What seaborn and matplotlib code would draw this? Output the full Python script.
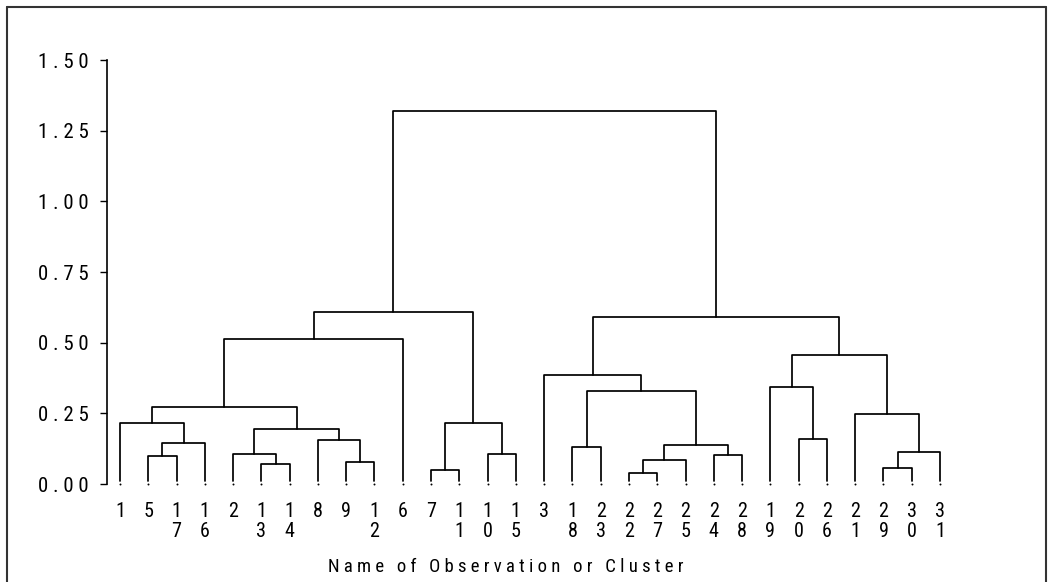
import matplotlib
matplotlib.use("Agg")
import matplotlib.pyplot as plt
import seaborn as sns
import pandas as pd
from matplotlib.lines import Line2D

# ---------------- data ----------------
leaf_labels = ["1", "5", "17", "16", "2", "13", "14", "8", "9", "12", "6",
               "7", "11", "10", "15", "3", "18", "23", "22", "27", "25",
               "24", "28", "19", "20", "26", "21", "29", "30", "31"]

# merges (cluster Ck is created by the k-th merge)
merge_left = ["5", "C1", "1", "13", "2", "9", "8", "C5", "C3", "C9",
              "7", "10", "C11", "C10",
              "22", "C15", "24", "C16", "18", "C19", "3",
              "20", "19", "29", "C24", "21", "C23", "C21", "C14"]
merge_right = ["17", "16", "C2", "14", "C4", "12", "C6", "C7", "C8", "6",
               "11", "15", "C12", "C13",
               "27", "25", "28", "C17", "23", "C18", "C20",
               "26", "C22", "30", "31", "C25", "C26", "C27", "C28"]
merge_height = [0.099, 0.144, 0.215, 0.071, 0.105, 0.077, 0.157, 0.196, 0.271, 0.513,
                0.048, 0.105, 0.215, 0.608,
                0.038, 0.085, 0.104, 0.138, 0.132, 0.330, 0.384,
                0.160, 0.343, 0.057, 0.114, 0.249, 0.457, 0.591, 1.318]

y_ticks = [0.00, 0.25, 0.50, 0.75, 1.00, 1.25, 1.50]
x_title = "Name of Observation or Cluster"

# ---------------- style ----------------
sns.set_theme(style="white")
plt.rcParams["font.family"] = ["Roboto Condensed", "Liberation Sans Narrow", "DejaVu Sans"]

W, H = 1052, 582
fig = plt.figure(figsize=(W / 100, H / 100), dpi=100)
fig.patch.set_facecolor("white")

px_per_leaf = 28.276
ax_left_px, ax_right_px = 107, 960
ax_bottom_px, ax_top_px = 484, 60
ax = fig.add_axes([ax_left_px / W, (H - ax_bottom_px) / H,
                   (ax_right_px - ax_left_px) / W, (ax_bottom_px - ax_top_px) / H])

leaf_tip = 0.012  # small gap between leaf line and the leaf dot

pos = {lab: float(i) for i, lab in enumerate(leaf_labels)}
hgt = {lab: leaf_tip for lab in leaf_labels}
rows = []
for k, (a, b, h) in enumerate(zip(merge_left, merge_right, merge_height), start=1):
    name = f"C{k}"
    xa, xb = pos[a], pos[b]
    ya, yb = hgt[a], hgt[b]
    for x, y in [(xa, ya), (xa, h), (xb, h), (xb, yb)]:
        rows.append({"seg": name, "x": x, "y": y})
    pos[name] = (xa + xb) / 2
    hgt[name] = h
df = pd.DataFrame(rows)

sns.lineplot(data=df, x="x", y="y", units="seg", estimator=None, sort=False,
             color="black", linewidth=1.25, ax=ax, legend=False)
leaf_df = pd.DataFrame({"x": [pos[l] for l in leaf_labels], "y": [0.0] * len(leaf_labels)})
sns.scatterplot(data=leaf_df, x="x", y="y", s=2, color="black", linewidth=0, ax=ax)
for art in ax.lines + ax.collections:
    art.set_clip_on(False)

x0 = -(120 - ax_left_px) / px_per_leaf
ax.set_xlim(x0, x0 + (ax_right_px - ax_left_px) / px_per_leaf)
ax.set_ylim(0, 1.5)

ax.set_yticks(y_ticks)
ax.set_yticklabels([" ".join(f"{v:.2f}") for v in y_ticks])
ax.tick_params(axis="y", direction="out", length=5, width=1.0, pad=8,
               labelsize=15, colors="black", left=True)
ax.set_xticks([pos[l] for l in leaf_labels])
ax.set_xticklabels(["\n".join(l) for l in leaf_labels], linespacing=1.05)
ax.tick_params(axis="x", length=0, pad=13, labelsize=14.5, colors="black")
ax.set_xlabel("")
ax.set_ylabel("")

for s in ["top", "right", "bottom"]:
    ax.spines[s].set_visible(False)
ax.spines["left"].set_bounds(0, 1.5)
ax.spines["left"].set_color("black")
ax.spines["left"].set_linewidth(1.2)

fig.text(506 / W, 1 - 567 / H, " ".join(x_title), ha="center", va="center",
         fontsize=13.5, color="black")

# outer frame (top, left, right)
fx0, fx1, fy1 = 7 / W, 1046 / W, 1 - 7 / H
frame_kw = dict(transform=fig.transFigure, color="#333333", linewidth=1.5)
fig.add_artist(Line2D([fx0, fx1], [fy1, fy1], **frame_kw))
fig.add_artist(Line2D([fx0, fx0], [fy1, -0.01], **frame_kw))
fig.add_artist(Line2D([fx1, fx1], [fy1, -0.01], **frame_kw))

fig.savefig("out.png", dpi=100, facecolor="white")
